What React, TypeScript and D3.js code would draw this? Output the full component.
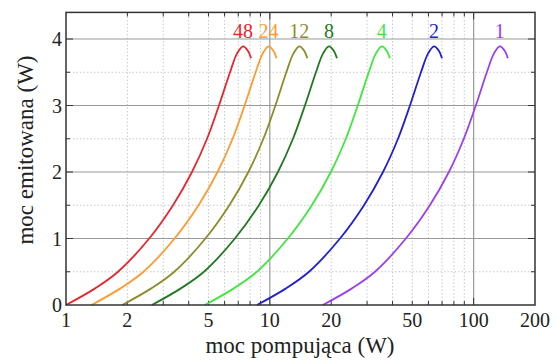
import React, { useRef, useEffect } from 'react';
import * as d3 from 'd3';

// poziomy mocy emitowanej (W): od progu, przez szczyt, do końca krzywej
const emitLevels = [0, 0.25, 0.5, 1, 1.5, 2, 2.5, 3, 3.5, 3.78, 3.89, 3.82, 3.71];

// moc pompująca (W) dla każdej krzywej, odczytana przy tych poziomach
const pump48 = [1.0, 1.39, 1.8, 2.56, 3.35, 4.15, 4.92, 5.63, 6.38, 6.9, 7.39, 7.82, 8.09];
const pump24 = [1.335, 1.85, 2.4, 3.41, 4.47, 5.54, 6.57, 7.52, 8.52, 9.22, 9.86, 10.43, 10.79];
const pump12 = [1.89, 2.62, 3.4, 4.83, 6.33, 7.85, 9.3, 10.65, 12.05, 13.05, 13.96, 14.77, 15.28];
const pump8 = [2.64, 3.66, 4.75, 6.74, 8.84, 10.96, 12.99, 14.87, 16.84, 18.23, 19.5, 20.63, 21.35];
const pump4 = [4.8, 6.66, 8.64, 12.26, 16.08, 19.93, 23.6, 27.0, 30.6, 33.14, 35.46, 37.52, 38.81];
const pump2 = [8.65, 12.01, 15.57, 22.1, 28.98, 35.92, 42.55, 48.7, 55.17, 59.72, 63.9, 67.61, 69.94];
const pump1 = [18.2, 25.3, 32.8, 46.5, 60.97, 75.6, 89.5, 102.5, 116.1, 125.7, 134.4, 142.3, 147.2];

const seriesLabels = ['48', '24', '12', '8', '4', '2', '1'];
const seriesColors = ['#e8262e', '#ff9a2e', '#8c8c2a', '#1f7a1f', '#3ee83e', '#2020d0', '#9a40f0'];
const seriesPump = [pump48, pump24, pump12, pump8, pump4, pump2, pump1];

const xTickLabels = [1, 2, 5, 10, 20, 50, 100, 200];
const yTickLabels = [0, 1, 2, 3, 4];

const App: React.FC = () => {
  const svgRef = useRef<SVGSVGElement>(null);

  const width = 557;
  const height = 361;
  const marginTop = 12.4;
  const marginRight = 22;
  const marginBottom = 56;
  const marginLeft = 66;
  const font = "'Liberation Serif', 'Times New Roman', Times, Tinos, 'Nimbus Roman', 'DejaVu Serif', 'Noto Serif', serif";

  const x = d3.scaleLog()
    .domain([1, 200])
    .range([marginLeft, width - marginRight]);

  const y = d3.scaleLinear()
    .domain([0, 4.4])
    .range([height - marginBottom, marginTop]);

  useEffect(() => {
    if (!svgRef.current) return;
    const svg = d3.select(svgRef.current);
    svg.selectAll('*').remove();

    const x0 = marginLeft, x1 = width - marginRight;
    const y0 = height - marginBottom, y1 = marginTop;

    // wartości dla podziałki logarytmicznej
    const minorX: number[] = [];
    [1, 10, 100].forEach(d => {
      for (let k = 1; k <= 9; k++) {
        const v = d * k;
        if (v > 1 && v < 200) minorX.push(v);
      }
    });
    const majorX = [10, 100];
    const minorY = [0.5, 1.5, 2.5, 3.5];
    const majorY = [1, 2, 3, 4];

    // siatka pomocnicza (kropkowana)
    svg.append('g')
      .selectAll('line')
      .data(minorX.filter(v => !majorX.includes(v)))
      .join('line')
      .attr('x1', d => x(d)).attr('x2', d => x(d))
      .attr('y1', y0).attr('y2', y1)
      .attr('stroke', '#c8c8c8')
      .attr('stroke-dasharray', '1.5,2');

    svg.append('g')
      .selectAll('line')
      .data(minorY)
      .join('line')
      .attr('x1', x0).attr('x2', x1)
      .attr('y1', d => y(d)).attr('y2', d => y(d))
      .attr('stroke', '#c8c8c8')
      .attr('stroke-dasharray', '1.5,2');

    // siatka główna
    svg.append('g')
      .selectAll('line')
      .data(majorX)
      .join('line')
      .attr('x1', d => x(d)).attr('x2', d => x(d))
      .attr('y1', y0).attr('y2', y1)
      .attr('stroke', '#999')
      .attr('stroke-width', 1.2);

    svg.append('g')
      .selectAll('line')
      .data(majorY)
      .join('line')
      .attr('x1', x0).attr('x2', x1)
      .attr('y1', d => y(d)).attr('y2', d => y(d))
      .attr('stroke', '#999')
      .attr('stroke-width', 1.2);

    // kreski podziałki do wewnątrz
    const ticks = svg.append('g').attr('stroke', '#333').attr('stroke-width', 1);
    minorX.forEach(v => {
      const len = majorX.includes(v) ? 7 : 4;
      ticks.append('line').attr('x1', x(v)).attr('x2', x(v)).attr('y1', y0).attr('y2', y0 - len);
      ticks.append('line').attr('x1', x(v)).attr('x2', x(v)).attr('y1', y1).attr('y2', y1 + len);
    });
    [...minorY, ...majorY].forEach(v => {
      const len = majorY.includes(v) ? 7 : 4;
      ticks.append('line').attr('x1', x0).attr('x2', x0 + len).attr('y1', y(v)).attr('y2', y(v));
      ticks.append('line').attr('x1', x1).attr('x2', x1 - len).attr('y1', y(v)).attr('y2', y(v));
    });

    // krzywe
    const line = d3.line<[number, number]>()
      .x(d => x(d[0]))
      .y(d => y(d[1]))
      .curve(d3.curveCatmullRom.alpha(0.5));

    seriesPump.forEach((pump, i) => {
      const pts = pump.map((p, j) => [p, emitLevels[j]] as [number, number]);
      svg.append('path')
        .attr('d', line(pts))
        .attr('fill', 'none')
        .attr('stroke', seriesColors[i])
        .attr('stroke-width', 1.8);

      // etykieta nad szczytem
      svg.append('text')
        .attr('x', x(pump[10]))
        .attr('y', y(4) - 1.5)
        .attr('text-anchor', 'middle')
        .style('font-family', font)
        .style('font-size', '20px')
        .attr('fill', seriesColors[i])
        .text(seriesLabels[i]);
    });

    // ramka
    svg.append('rect')
      .attr('x', x0).attr('y', y1)
      .attr('width', x1 - x0).attr('height', y0 - y1)
      .attr('fill', 'none')
      .attr('stroke', '#333')
      .attr('stroke-width', 1.5);

    // opisy osi
    svg.append('g')
      .selectAll('text')
      .data(xTickLabels)
      .join('text')
      .attr('x', d => x(d))
      .attr('y', y0 + 22)
      .attr('text-anchor', 'middle')
      .style('font-family', font)
      .style('font-size', '20px')
      .attr('fill', '#222')
      .text(d => d);

    svg.append('g')
      .selectAll('text')
      .data(yTickLabels)
      .join('text')
      .attr('x', x0 - 4)
      .attr('y', d => y(d))
      .attr('dy', '0.35em')
      .attr('text-anchor', 'end')
      .style('font-family', font)
      .style('font-size', '20px')
      .attr('fill', '#222')
      .text(d => d);

    svg.append('text')
      .attr('x', 300)
      .attr('y', 353)
      .attr('text-anchor', 'middle')
      .style('font-family', font)
      .style('font-size', '23px')
      .attr('fill', '#222')
      .text('moc pompująca (W)');

    svg.append('text')
      .attr('transform', `translate(33,150) rotate(-90)`)
      .attr('text-anchor', 'middle')
      .style('font-family', font)
      .style('font-size', '23px')
      .attr('fill', '#222')
      .text('moc emitowana (W)');
  }, []);

  return (
    <svg ref={svgRef} width={width} height={height}
      style={{ position: 'absolute', left: 0, top: 0, background: '#fff' }} />
  );
};

export default App;
